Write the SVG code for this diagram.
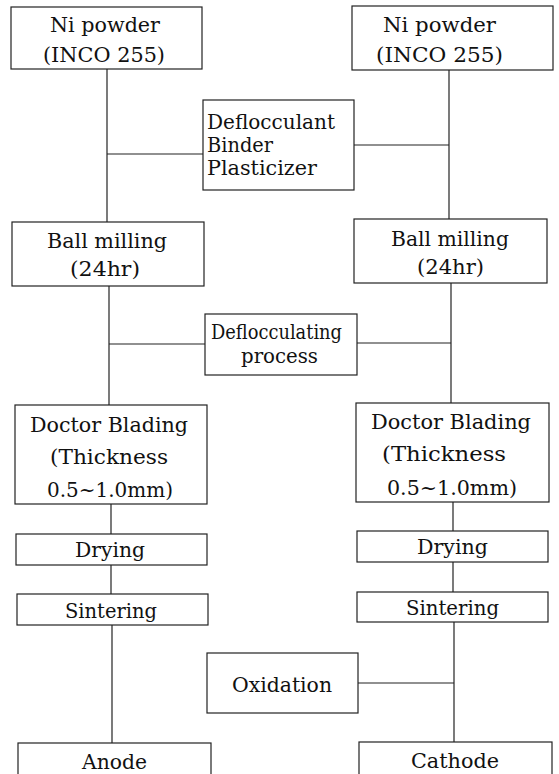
<svg xmlns="http://www.w3.org/2000/svg" width="559" height="774" viewBox="0 0 559 774">
<style>
  rect.box { fill: #fff; stroke: #222; stroke-width: 1.2; }
  .conn line { stroke: #222; stroke-width: 1.2; }
  text { font-family: "DejaVu Serif", "Liberation Serif", serif; font-size: 21px; fill: #111; }
  text.sm { font-size: 19.5px; }
</style>
<rect width="559" height="774" fill="#fff"/>
<g id="connectors" class="conn">
  <line x1="107" y1="69" x2="107" y2="222"/>
  <line x1="109" y1="286" x2="109" y2="405"/>
  <line x1="111" y1="504" x2="111" y2="534"/>
  <line x1="111" y1="565" x2="111" y2="594"/>
  <line x1="112" y1="625" x2="112" y2="743"/>
  <line x1="449" y1="70" x2="449" y2="219"/>
  <line x1="451" y1="283" x2="451" y2="403"/>
  <line x1="453" y1="502" x2="453" y2="531"/>
  <line x1="453" y1="562" x2="453" y2="592"/>
  <line x1="454" y1="622" x2="454" y2="742"/>
  <line x1="107" y1="154" x2="203" y2="154"/>
  <line x1="354" y1="145" x2="449" y2="145"/>
  <line x1="109" y1="344" x2="205" y2="344"/>
  <line x1="357" y1="343" x2="451" y2="343"/>
  <line x1="358" y1="683" x2="454" y2="683"/>
</g>
<g id="ni-left">
  <rect class="box" x="11" y="7" width="191" height="62"/>
  <text x="50" y="32" textLength="110" lengthAdjust="spacingAndGlyphs">Ni powder</text>
  <text x="43" y="62" textLength="122" lengthAdjust="spacingAndGlyphs">(INCO 255)</text>
</g>
<g id="ni-right">
  <rect class="box" x="352" y="6" width="201" height="64"/>
  <text x="383" y="32" textLength="113" lengthAdjust="spacingAndGlyphs">Ni powder</text>
  <text x="376" y="62" textLength="127" lengthAdjust="spacingAndGlyphs">(INCO 255)</text>
</g>
<g id="additives">
  <rect class="box" x="203" y="100" width="151" height="90"/>
  <text class="sm" x="207" y="129" textLength="128" lengthAdjust="spacingAndGlyphs">Deflocculant</text>
  <text class="sm" x="207" y="152" textLength="66" lengthAdjust="spacingAndGlyphs">Binder</text>
  <text class="sm" x="207" y="175" textLength="110" lengthAdjust="spacingAndGlyphs">Plasticizer</text>
</g>
<g id="ball-left">
  <rect class="box" x="12" y="222" width="192" height="64"/>
  <text x="47" y="248" textLength="120" lengthAdjust="spacingAndGlyphs">Ball milling</text>
  <text x="70" y="276" textLength="70" lengthAdjust="spacingAndGlyphs">(24hr)</text>
</g>
<g id="ball-right">
  <rect class="box" x="354" y="219" width="193" height="64"/>
  <text x="391" y="246" textLength="118" lengthAdjust="spacingAndGlyphs">Ball milling</text>
  <text x="417" y="274" textLength="67" lengthAdjust="spacingAndGlyphs">(24hr)</text>
</g>
<g id="defloc-process">
  <rect class="box" x="205" y="314" width="152" height="61"/>
  <text class="sm" x="211" y="339" textLength="131" lengthAdjust="spacingAndGlyphs">Deflocculating</text>
  <text class="sm" x="241" y="363" textLength="77" lengthAdjust="spacingAndGlyphs">process</text>
</g>
<g id="doctor-left">
  <rect class="box" x="15" y="405" width="192" height="99"/>
  <text x="30" y="432" textLength="158" lengthAdjust="spacingAndGlyphs">Doctor Blading</text>
  <text x="50" y="464" textLength="118" lengthAdjust="spacingAndGlyphs">(Thickness</text>
  <text x="47" y="497" textLength="126" lengthAdjust="spacingAndGlyphs">0.5~1.0mm)</text>
</g>
<g id="doctor-right">
  <rect class="box" x="356" y="403" width="193" height="99"/>
  <text x="371" y="429" textLength="160" lengthAdjust="spacingAndGlyphs">Doctor Blading</text>
  <text x="382" y="461" textLength="124" lengthAdjust="spacingAndGlyphs">(Thickness</text>
  <text x="387" y="495" textLength="130" lengthAdjust="spacingAndGlyphs">0.5~1.0mm)</text>
</g>
<g id="drying-left">
  <rect class="box" x="16" y="534" width="191" height="31"/>
  <text x="75" y="557" textLength="70" lengthAdjust="spacingAndGlyphs">Drying</text>
</g>
<g id="drying-right">
  <rect class="box" x="357" y="531" width="191" height="31"/>
  <text x="417" y="554" textLength="71" lengthAdjust="spacingAndGlyphs">Drying</text>
</g>
<g id="sintering-left">
  <rect class="box" x="17" y="594" width="191" height="31"/>
  <text x="65" y="618" textLength="92" lengthAdjust="spacingAndGlyphs">Sintering</text>
</g>
<g id="sintering-right">
  <rect class="box" x="357" y="592" width="191" height="30"/>
  <text x="406" y="615" textLength="93" lengthAdjust="spacingAndGlyphs">Sintering</text>
</g>
<g id="oxidation">
  <rect class="box" x="207" y="653" width="151" height="60"/>
  <text x="232" y="692" textLength="100" lengthAdjust="spacingAndGlyphs">Oxidation</text>
</g>
<g id="anode">
  <rect class="box" x="18" y="743" width="193" height="40"/>
  <text x="82" y="769" textLength="65" lengthAdjust="spacingAndGlyphs">Anode</text>
</g>
<g id="cathode">
  <rect class="box" x="359" y="742" width="193" height="40"/>
  <text x="411" y="768" textLength="88" lengthAdjust="spacingAndGlyphs">Cathode</text>
</g>
</svg>
